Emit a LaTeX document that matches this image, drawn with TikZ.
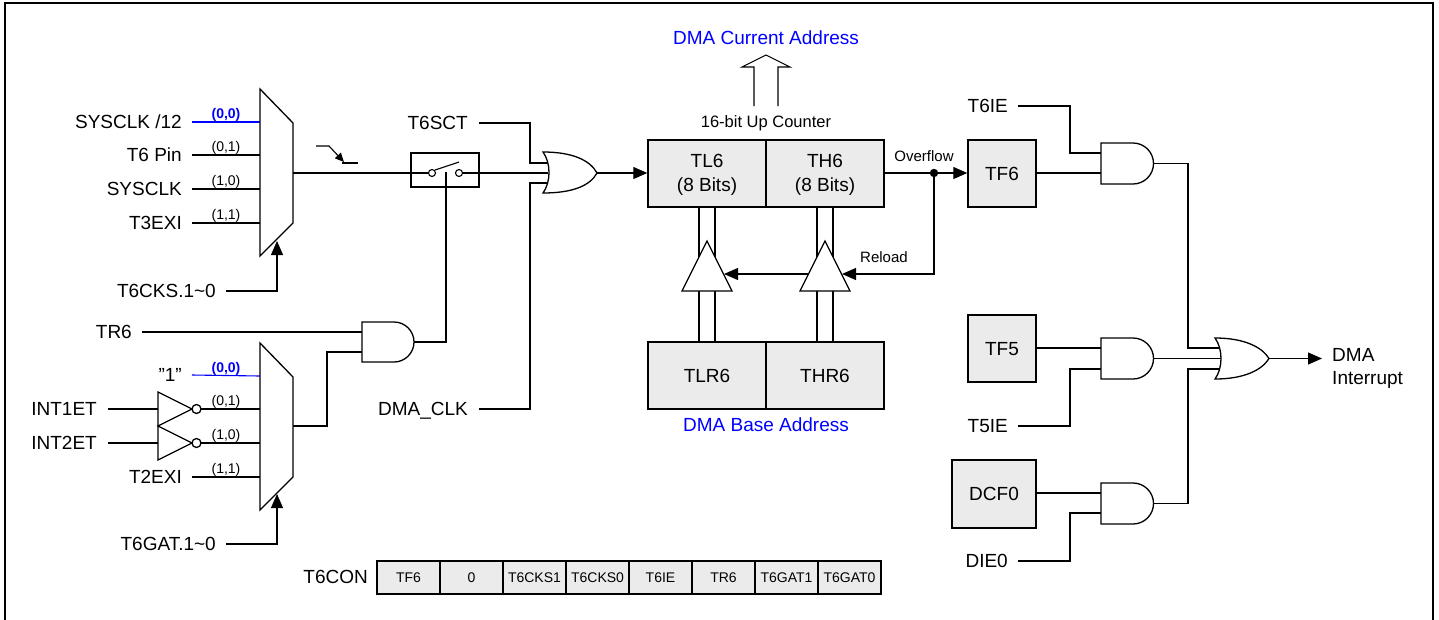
\documentclass[tikz,border=0pt]{standalone}
\usepackage{fontspec}
\setmainfont{Liberation Sans}
\usetikzlibrary{arrows.meta}
\definecolor{regfill}{RGB}{235,235,235}
\definecolor{sigblue}{RGB}{0,0,255}
\newcommand\fmain{\fontsize{19}{22}\selectfont}
\newcommand\fcnt{\fontsize{16.5}{19}\selectfont}
\newcommand\fov{\fontsize{15}{18}\selectfont}
\newcommand\fsm{\fontsize{14}{16}\selectfont}
\begin{document}
\begin{tikzpicture}[x=1pt,y=-1pt,line join=miter,
  wire/.style={line width=1.1pt},
  box/.style={draw,line width=1.4pt,fill=regfill,inner sep=0pt},
  lbl/.style={font=\fmain,inner sep=0pt,text height=13.6pt,text depth=0pt},
  cnt/.style={font=\fcnt,inner sep=0pt,text height=11.8pt,text depth=0pt},
  ovf/.style={font=\fov,inner sep=0pt,text height=10.7pt,text depth=0pt},
  sm/.style={font=\fsm,inner sep=0pt,text height=10pt,text depth=0pt},
  arr/.style={-{Triangle[length=14pt,width=12pt]}},
  gate/.style={line width=1.3pt,fill=white}]
\useasboundingbox (0,0) rectangle (1439,619);
% frame
\draw[line width=2pt] (5,640) -- (5,3) -- (1433,3) -- (1433,640);

% ---------------- clock mux ----------------
\coordinate (m1a) at (260,122); \coordinate (m1b) at (260,155);
\coordinate (m1c) at (260,189); \coordinate (m1d) at (260,223);
\coordinate (m1o) at (293,173); \coordinate (m1s) at (277,241);
\node[lbl,anchor=east] (lsys12) at (182,122) {SYSCLK /12};
\node[lbl,anchor=east] (lt6pin) at (182,155) {T6 Pin};
\node[lbl,anchor=east] (lsys) at (182,189) {SYSCLK};
\node[lbl,anchor=east] (lt3) at (182,223) {T3EXI};
\draw[wire,sigblue] ([xshift=10pt]lsys12.east) -- (m1a);
\draw[wire] ([xshift=10pt]lt6pin.east) -- (m1b);
\draw[wire] ([xshift=10pt]lsys.east) -- (m1c);
\draw[wire] ([xshift=10pt]lt3.east) -- (m1d);
\node[sm,text=sigblue,font=\fsm\bfseries] (s1a) at (226,113) {(0,0)};
\node[sm] (s1b) at (226,146) {(0,1)};
\node[sm] (s1c) at (226,180) {(1,0)};
\node[sm] (s1d) at (226,214) {(1,1)};
\draw[gate] (260,89) -- (293,123) -- (293,223) -- (260,256) -- cycle;
\node[lbl,anchor=east] (lcks) at (216,291) {T6CKS.1\char`~0};
\draw[wire,arr] ([xshift=10pt]lcks.east) -| (m1s);

% falling edge symbol
\coordinate (fe1) at (316,146); \coordinate (fe2) at (329,146);
\coordinate (fe3) at (344,162); \coordinate (fe4) at (342,163); \coordinate (fe5) at (358,163);
\draw[wire,-{Triangle[length=9pt,width=8pt]}] (fe1) -- (fe2) -- (fe3);
\draw[wire] (fe4) -- (fe5);

% ---------------- switch ----------------
\node[draw,line width=1.3pt,minimum width=68pt,minimum height=34pt,inner sep=0pt] (sw) at (445,170) {};
\coordinate (swin) at (411,173); \coordinate (swout) at (479,173);
\coordinate (c1) at (432,173); \coordinate (c2) at (459,173);
\draw[wire] (m1o) -- (swin) -- ([xshift=-3.5pt]c1);
\draw[wire] ([xshift=3.5pt]c2) -- (swout);
\draw[wire] (c1) circle[radius=3.5pt] (c2) circle[radius=3.5pt];
\draw[wire] (435,170) -- (459,162);
\coordinate (swctl) at (446,172);

% ---------------- OR gate 1 ----------------
\coordinate (o1a) at (548,163); \coordinate (o1b) at (548,173);
\coordinate (o1c) at (548,183); \coordinate (o1o) at (597,173);
\node[lbl,anchor=east] (lsct) at (468,123) {T6SCT};
\node[lbl,anchor=east] (ldma) at (468,409) {DMA\_CLK};
\draw[wire] ([xshift=11pt]lsct.east) -- (530,123) -- (530,163) -- (o1a);
\draw[wire] (swout) -- (o1b);
\draw[wire] ([xshift=11pt]ldma.east) -- (530,409) -- (530,183) -- (o1c);
\draw[gate] (543,152) .. controls (551,163) and (551,182) .. (543,193)
  .. controls (572,193) and (590,186) .. (597,173)
  .. controls (590,160) and (572,152) .. (543,152) -- cycle;

% ---------------- counter ----------------
\node[box,minimum width=118pt,minimum height=67pt] (tl6) at (707,173.5) {};
\node[box,minimum width=118pt,minimum height=67pt] (th6) at (825,173.5) {};
\node[lbl] (tl6a) at (707,161) {TL6};
\node[lbl] (tl6b) at (707,185) {(8 Bits)};
\node[lbl] (th6a) at (825,161) {TH6};
\node[lbl] (th6b) at (825,185) {(8 Bits)};
\draw[wire,arr] (o1o) -- (tl6.west |- o1o);
\node[cnt] (lcnt) at (766,122) {16-bit Up Counter};
\draw[wire] (754,106) -- (754,67) -- (742,67) -- (766,55) -- (790,67) -- (778,67) -- (778,106);
\node[lbl,text=sigblue] (lcur) at (766,38) {DMA Current Address};

% reload registers
\node[box,minimum width=118pt,minimum height=67pt,font=\fmain,text height=13.6pt,text depth=0pt] (tlr6) at (707,375.5) {TLR6};
\node[box,minimum width=118pt,minimum height=67pt,font=\fmain,text height=13.6pt,text depth=0pt] (thr6) at (825,375.5) {THR6};
\node[lbl,text=sigblue] (lbase) at (766,425) {DMA Base Address};
% buses
\foreach \xx in {699,715,817,833} {
  \draw[wire] (\xx,207) -- (\xx,257);
  \draw[wire] (\xx,291) -- (\xx,342);
}
\draw[line width=1.3pt,fill=white] (707,241) -- (732,291) -- (682,291) -- cycle;
\draw[line width=1.3pt,fill=white] (825,241) -- (850,291) -- (800,291) -- cycle;

% overflow / reload
\coordinate (ovs) at (884,173); \coordinate (dot) at (934,173);
\node[box,minimum width=68pt,minimum height=67pt,font=\fmain,text height=13.6pt,text depth=0pt] (tf6) at (1002,173.5) {TF6};
\draw[wire,arr] (ovs) -- (tf6.west |- ovs);
\fill (dot) circle[radius=4.2pt];
\node[ovf] (lovf) at (924,156) {Overflow};
\coordinate (rl1) at (842,274); \coordinate (rl2) at (808,274); \coordinate (rl3) at (724,274);
\draw[wire,arr] (dot) -- (934,274) -- (rl1);
\draw[wire,arr] (rl2) -- (rl3);
\node[ovf] (lrel) at (884,257) {Reload};

% ---------------- TR6 gate and gate mux ----------------
\node[lbl,anchor=east] (ltr6) at (132,332) {TR6};
\coordinate (a4a) at (362,332); \coordinate (a4b) at (362,352); \coordinate (a4o) at (414,342);
\draw[wire] ([xshift=10pt]ltr6.east) -- (a4a);
\coordinate (m2a) at (260,376); \coordinate (m2b) at (260,409);
\coordinate (m2c) at (260,443); \coordinate (m2d) at (260,477);
\coordinate (m2o) at (293,426); \coordinate (m2s) at (277,494);
\draw[wire] (m2o) -- (327,426) -- (327,352) -- (a4b);
\draw[gate] (362,322) -- (394,322) arc[start angle=90,end angle=-90,radius=20pt] -- (362,362) -- cycle;
\draw[wire] (a4o) -- (446,342) -- (swctl);

\node[lbl,anchor=east] (lone) at (182,375) {\char34 1\char34};
\node[lbl,anchor=east] (lint1) at (97,409) {INT1ET};
\node[lbl,anchor=east] (lint2) at (97,443) {INT2ET};
\node[lbl,anchor=east] (lt2) at (182,477) {T2EXI};
\draw[wire,sigblue] ([xshift=10pt]lone.east) -- (m2a);
\draw[wire] ([xshift=11pt]lint1.east) -- (158,409);
\draw[wire] ([xshift=11pt]lint2.east) -- (158,443);
\draw[line width=1.3pt] (158,392) -- (192,409) -- (158,426) -- cycle;
\draw[line width=1.3pt] (158,426) -- (192,443) -- (158,460) -- cycle;
\draw[line width=1.3pt] (196.5,409) circle[radius=4.5pt];
\draw[line width=1.3pt] (196.5,443) circle[radius=4.5pt];
\draw[wire] (201,409) -- (m2b);
\draw[wire] (201,443) -- (m2c);
\draw[wire] ([xshift=10pt]lt2.east) -- (m2d);
\node[sm,text=sigblue,font=\fsm\bfseries] (s2a) at (226,367) {(0,0)};
\node[sm] (s2b) at (226,400) {(0,1)};
\node[sm] (s2c) at (226,434) {(1,0)};
\node[sm] (s2d) at (226,468) {(1,1)};
\draw[gate] (260,343) -- (293,377) -- (293,477) -- (260,510) -- cycle;
\node[lbl,anchor=east] (lgat) at (216,544) {T6GAT.1\char`~0};
\draw[wire,arr] ([xshift=10pt]lgat.east) -| (m2s);

% ---------------- T6CON register ----------------
\node[lbl,anchor=east] (lcon) at (368,577) {T6CON};
\foreach \t [count=\i] in {TF6,0,T6CKS1,T6CKS0,T6IE,TR6,T6GAT1,T6GAT0}
  \node[box,minimum width=63pt,minimum height=33pt,font=\fsm,text height=10pt,text depth=0pt] (r\i) at ({377+63*\i-31.5},577.5) {\t};

% ---------------- interrupt logic ----------------
\node[box,minimum width=68pt,minimum height=67pt,font=\fmain,text height=13.6pt,text depth=0pt] (tf5) at (1002,348.5) {TF5};
\node[box,minimum width=84pt,minimum height=68pt,font=\fmain,text height=13.6pt,text depth=0pt] (dcf0) at (994,494) {DCF0};
\node[lbl,anchor=east] (lt6ie) at (1008,106) {T6IE};
\node[lbl,anchor=east] (lt5ie) at (1008,426) {T5IE};
\node[lbl,anchor=east] (ldie) at (1008,561) {DIE0};

\coordinate (a1a) at (1101,153); \coordinate (a1b) at (1101,173); \coordinate (a1o) at (1153.5,163.5);
\coordinate (a2a) at (1101,348); \coordinate (a2b) at (1101,369); \coordinate (a2o) at (1153.5,358.5);
\coordinate (a3a) at (1101,493); \coordinate (a3b) at (1101,513); \coordinate (a3o) at (1153.5,503.5);
\coordinate (o2a) at (1219,348); \coordinate (o2b) at (1221,358.5); \coordinate (o2c) at (1219,369);
\coordinate (o2o) at (1269,358.5);

\draw[wire] ([xshift=10pt]lt6ie.east) -- (1070,106) -- (1070,153) -- (a1a);
\draw[wire] (tf6.east |- a1b) -- (a1b);
\draw[wire] (tf5.east |- a2a) -- (a2a);
\draw[wire] ([xshift=10pt]lt5ie.east) -- (1070,426) -- (1070,369) -- (a2b);
\draw[wire] (dcf0.east |- a3a) -- (a3a);
\draw[wire] ([xshift=10pt]ldie.east) -- (1070,561) -- (1070,513) -- (a3b);

\draw[wire] (a1o) -- (1188,163.5) -- (1188,348) -- (o2a);
\draw[wire] (a2o) -- (o2b);
\draw[wire] (a3o) -- (1188,503.5) -- (1188,369) -- (o2c);

\draw[gate] (1101,143) -- (1133,143) arc[start angle=90,end angle=-90,radius=20.5pt] -- (1101,184) -- cycle;
\draw[gate] (1101,338) -- (1133,338) arc[start angle=90,end angle=-90,radius=20.5pt] -- (1101,379) -- cycle;
\draw[gate] (1101,483) -- (1133,483) arc[start angle=90,end angle=-90,radius=20.5pt] -- (1101,524) -- cycle;

\draw[gate] (1215,338) .. controls (1223,349) and (1223,368) .. (1215,379)
  .. controls (1244,379) and (1262,370) .. (o2o)
  .. controls (1262,347) and (1244,338) .. (1215,338) -- cycle;
\coordinate (intr) at (1322,358.5);
\draw[wire,arr] (o2o) -- (intr);
\node[lbl,anchor=west] (ldmai) at (1332,355) {DMA};
\node[lbl,anchor=west] (lintr) at (1332,378) {Interrupt};
\end{tikzpicture}
\end{document}
